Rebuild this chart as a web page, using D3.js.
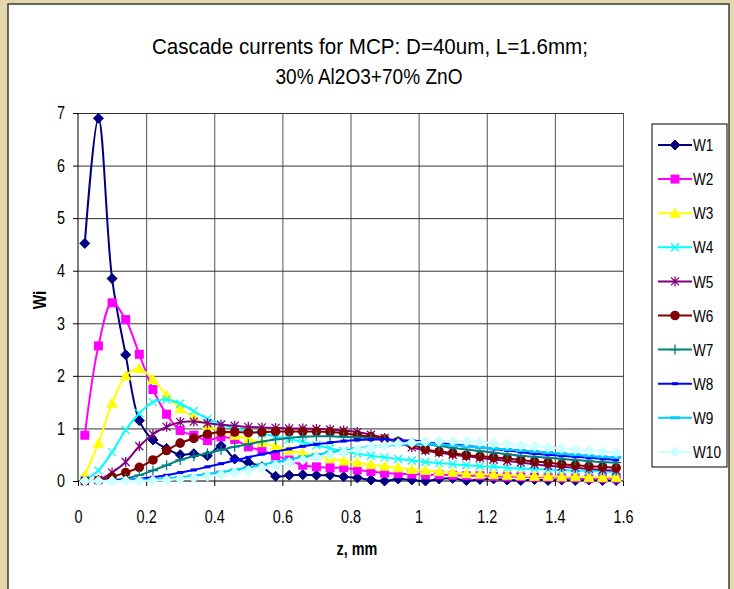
<!DOCTYPE html>
<html><head><meta charset="utf-8">
<script src="https://cdn.jsdelivr.net/npm/d3@7"></script>
<style>body{margin:0;background:#fff}svg{display:block}text{font-family:"Liberation Sans",Arial,sans-serif}</style>
</head><body>
<svg id="c" width="734" height="589"></svg>
<script>
const zValues=[0.02,0.06,0.10,0.14,0.18,0.22,0.26,0.30,0.34,0.38,0.42,0.46,0.50,0.54,0.58,0.62,0.66,0.70,0.74,0.78,
0.82,0.86,0.90,0.94,0.98,1.02,1.06,1.10,1.14,1.18,1.22,1.26,1.30,1.34,1.38,1.42,1.46,1.50,1.54,1.58];
const W1=[4.52,6.9,3.85,2.4,1.15,0.78,0.62,0.5,0.52,0.48,0.67,0.42,0.35,0.27,0.09,0.11,0.12,0.11,0.11,0.08,
0.06,0.02,0.0,0.04,0.02,0.0,0.04,0.05,0.01,0.03,0.04,0.02,0.01,0.03,0.01,0.02,0.01,0.02,0.01,0.01];
const W2=[0.87,2.57,3.39,3.07,2.41,1.74,1.27,0.96,0.87,0.77,0.84,0.79,0.65,0.58,0.48,0.4,0.3,0.27,0.25,0.25,
0.21,0.18,0.15,0.14,0.13,0.12,0.12,0.11,0.1,0.1,0.09,0.08,0.08,0.07,0.07,0.06,0.06,0.05,0.05,0.05];
const W3=[0.11,0.72,1.48,2.0,2.14,1.93,1.63,1.38,1.21,1.06,0.95,0.87,0.8,0.73,0.66,0.59,0.53,0.48,0.43,0.38,
0.35,0.31,0.28,0.25,0.22,0.2,0.18,0.16,0.14,0.13,0.12,0.11,0.1,0.09,0.09,0.08,0.08,0.07,0.07,0.07];
const W4=[0.02,0.2,0.55,0.97,1.29,1.5,1.55,1.47,1.33,1.18,1.08,1.0,0.95,0.9,0.85,0.8,0.74,0.68,0.62,0.57,
0.52,0.48,0.45,0.42,0.39,0.36,0.34,0.32,0.3,0.28,0.27,0.25,0.24,0.23,0.22,0.21,0.2,0.19,0.18,0.17];
const W5=[0.0,0.02,0.16,0.36,0.66,0.89,1.03,1.12,1.13,1.1,1.07,1.05,1.03,1.02,1.01,1.0,1.0,0.99,0.98,0.96,
0.93,0.88,0.82,0.74,0.64,0.58,0.54,0.5,0.47,0.44,0.41,0.38,0.35,0.32,0.29,0.27,0.25,0.23,0.21,0.2];
const W6=[0.0,0.01,0.08,0.16,0.26,0.4,0.58,0.72,0.81,0.89,0.93,0.93,0.92,0.93,0.94,0.94,0.94,0.94,0.93,0.91,
0.87,0.84,0.8,0.75,0.69,0.6,0.56,0.53,0.49,0.47,0.45,0.43,0.4,0.37,0.35,0.32,0.3,0.28,0.27,0.25];
const W7=[0.0,0.0,0.02,0.05,0.11,0.2,0.3,0.4,0.47,0.53,0.59,0.65,0.7,0.75,0.79,0.82,0.84,0.85,0.85,0.84,
0.83,0.81,0.79,0.76,0.73,0.7,0.67,0.63,0.6,0.57,0.54,0.51,0.48,0.46,0.44,0.42,0.4,0.38,0.36,0.35];
const W8=[0.0,0.0,0.01,0.02,0.04,0.07,0.11,0.16,0.21,0.27,0.33,0.39,0.45,0.51,0.56,0.61,0.66,0.7,0.73,0.76,
0.78,0.79,0.79,0.78,0.77,0.75,0.72,0.7,0.67,0.64,0.61,0.58,0.55,0.52,0.5,0.48,0.46,0.44,0.42,0.4];
const W9=[0.0,0.0,0.0,0.01,0.02,0.03,0.05,0.07,0.1,0.13,0.17,0.21,0.26,0.31,0.36,0.41,0.46,0.5,0.54,0.58,
0.62,0.65,0.67,0.69,0.7,0.7,0.69,0.68,0.66,0.64,0.62,0.6,0.58,0.56,0.54,0.52,0.5,0.48,0.46,0.45];
const W10=[0.0,0.0,0.0,0.0,0.0,0.01,0.02,0.04,0.06,0.09,0.12,0.16,0.2,0.25,0.3,0.35,0.4,0.45,0.5,0.55,
0.6,0.64,0.68,0.71,0.73,0.75,0.76,0.76,0.75,0.74,0.72,0.7,0.68,0.66,0.64,0.62,0.6,0.58,0.56,0.54];
const seriesNames=["W1","W2","W3","W4","W5","W6","W7","W8","W9","W10"];
const seriesValues=[W1,W2,W3,W4,W5,W6,W7,W8,W9,W10];
const seriesColors=["#000080","#FF00FF","#FFFF00","#00FFFF","#800080","#800000","#008080","#0000FF","#00CCFF","#CCFFFF"];
const seriesMarkers=["diamond","square","triangle","x","asterisk","circle","plus","shortdash","longdash","diamond"];
const xTicks=[0,0.2,0.4,0.6,0.8,1,1.2,1.4,1.6];
const yTicks=[0,1,2,3,4,5,6,7];
const titleLines=["Cascade currents for MCP: D=40um, L=1.6mm;","30% Al2O3+70% ZnO"];
const xTitle="z, mm", yTitle="Wi";

const svg=d3.select("#c");
svg.append("rect").attr("width",734).attr("height",589).attr("fill","#E2D8AC");
svg.append("rect").attr("x",8).attr("y",4).attr("width",721).attr("height",600)
  .attr("fill","#fff").attr("stroke","#3a3a3a").attr("stroke-width",1.5);

const X0=78,X1=623,Y0=481,Y1=113;
const x=d3.scaleLinear().domain([0,1.6]).range([X0,X1]);
const y=d3.scaleLinear().domain([0,7]).range([Y0,Y1]);

function condense(sel,f){sel.each(function(){const l=this.getComputedTextLength();
  d3.select(this).attr("textLength",l*f).attr("lengthAdjust","spacingAndGlyphs");});}

// gridlines
const gv=svg.append("g").attr("transform",`translate(0,${Y1})`)
  .call(d3.axisTop(x).tickValues(xTicks.slice(1)).tickSize(-(Y0-Y1)).tickFormat(""));
gv.select(".domain").remove();
gv.selectAll("line").attr("stroke","#555");
const gh=svg.append("g").attr("transform",`translate(${X0},0)`)
  .call(d3.axisLeft(y).tickValues(yTicks.slice(1)).tickSize(-(X1-X0)).tickFormat(""));
gh.select(".domain").remove();
gh.selectAll("line").attr("stroke","#333");

// axes
const ax=svg.append("g").attr("transform",`translate(0,${Y0})`)
  .call(d3.axisBottom(x).tickValues(xTicks).tickSize(5).tickPadding(24).tickFormat(d=>String(d)));
ax.select(".domain").attr("stroke","#000").attr("d",`M${X0},0H${X1}`);
ax.selectAll("text").attr("font-size",18).attr("fill","#000").attr("font-family","Liberation Sans, Arial, sans-serif");
const ay=svg.append("g").attr("transform",`translate(${X0},0)`)
  .call(d3.axisLeft(y).tickValues(yTicks).tickSize(5).tickPadding(8).tickFormat(d=>String(d)));
ay.select(".domain").attr("stroke","#000").attr("d",`M0,${Y0}V${Y1}`);
ay.selectAll("text").attr("font-size",18).attr("fill","#000").attr("font-family","Liberation Sans, Arial, sans-serif");

// markers
function drawMarker(g,type,color){
  const s=g;
  switch(type){
    case "diamond": s.append("path").attr("d","M0,-5L5,0L0,5L-5,0Z").attr("fill",color).attr("stroke",color);break;
    case "square": s.append("rect").attr("x",-4.5).attr("y",-4.5).attr("width",9).attr("height",9).attr("fill",color);break;
    case "triangle": s.append("path").attr("d","M0,-5L5,4L-5,4Z").attr("fill",color).attr("stroke",color);break;
    case "x": s.append("path").attr("d","M-4,-4L4,4M-4,4L4,-4").attr("stroke",color).attr("stroke-width",1.3).attr("fill","none");break;
    case "asterisk": s.append("path").attr("d","M-4,-4L4,4M-4,4L4,-4M0,-5V5").attr("stroke",color).attr("stroke-width",1.3).attr("fill","none");break;
    case "circle": s.append("circle").attr("r",4.8).attr("fill",color);break;
    case "plus": s.append("path").attr("d","M-5,0H5M0,-5V5").attr("stroke",color).attr("stroke-width",1.3);break;
    case "shortdash": s.append("path").attr("d","M-3,0H3").attr("stroke",color).attr("stroke-width",3);break;
    case "longdash": s.append("path").attr("d","M-5,0H5").attr("stroke",color).attr("stroke-width",3);break;
  }
}

const line=d3.line().x((d,i)=>x(zValues[i])).y(d=>y(d)).curve(d3.curveCatmullRom.alpha(0.5));
const plot=svg.append("g");
seriesValues.forEach((vals,si)=>{
  const g=plot.append("g");
  g.append("path").attr("d",line(vals)).attr("fill","none").attr("stroke",seriesColors[si]).attr("stroke-width",2);
  vals.forEach((v,i)=>{
    const m=g.append("g").attr("transform",`translate(${x(zValues[i])},${y(v)})`);
    drawMarker(m,seriesMarkers[si],seriesColors[si]);
  });
});

// legend
const LX=652,LY=124,LW=75,LH=343;
svg.append("rect").attr("x",LX).attr("y",LY).attr("width",LW).attr("height",LH)
  .attr("fill","#fff").attr("stroke","#000").attr("stroke-width",1);
seriesNames.forEach((n,i)=>{
  const cy=145+i*34.1;
  const g=svg.append("g");
  g.append("line").attr("x1",658).attr("x2",692).attr("y1",cy).attr("y2",cy).attr("stroke",seriesColors[i]).attr("stroke-width",2);
  drawMarker(g.append("g").attr("transform",`translate(675,${cy})`),seriesMarkers[i],seriesColors[i]);
  g.append("text").attr("class","lt").attr("x",693).attr("y",cy).attr("dy","0.36em").attr("font-size",17).text(n);
});

// titles
const t1=svg.append("text").attr("x",370).attr("y",54).attr("text-anchor","middle").attr("font-size",22).text(titleLines[0]);
const t2=svg.append("text").attr("x",369).attr("y",84).attr("text-anchor","middle").attr("font-size",22).text(titleLines[1]);
t1.attr("textLength",436).attr("lengthAdjust","spacingAndGlyphs");
t2.attr("textLength",187).attr("lengthAdjust","spacingAndGlyphs");
const xt=svg.append("text").attr("x",357).attr("y",555).attr("text-anchor","middle").attr("font-size",18).attr("font-weight","bold").text(xTitle);
const yt=svg.append("text").attr("transform","translate(46,300) rotate(-90)").attr("text-anchor","middle").attr("font-size",18).attr("font-weight","bold").text(yTitle);

condense(ax.selectAll("text"),0.8);
condense(ay.selectAll("text"),0.8);
condense(svg.selectAll(".lt"),0.8);
condense(xt,0.8);condense(yt,0.85);
</script>
</body></html>
